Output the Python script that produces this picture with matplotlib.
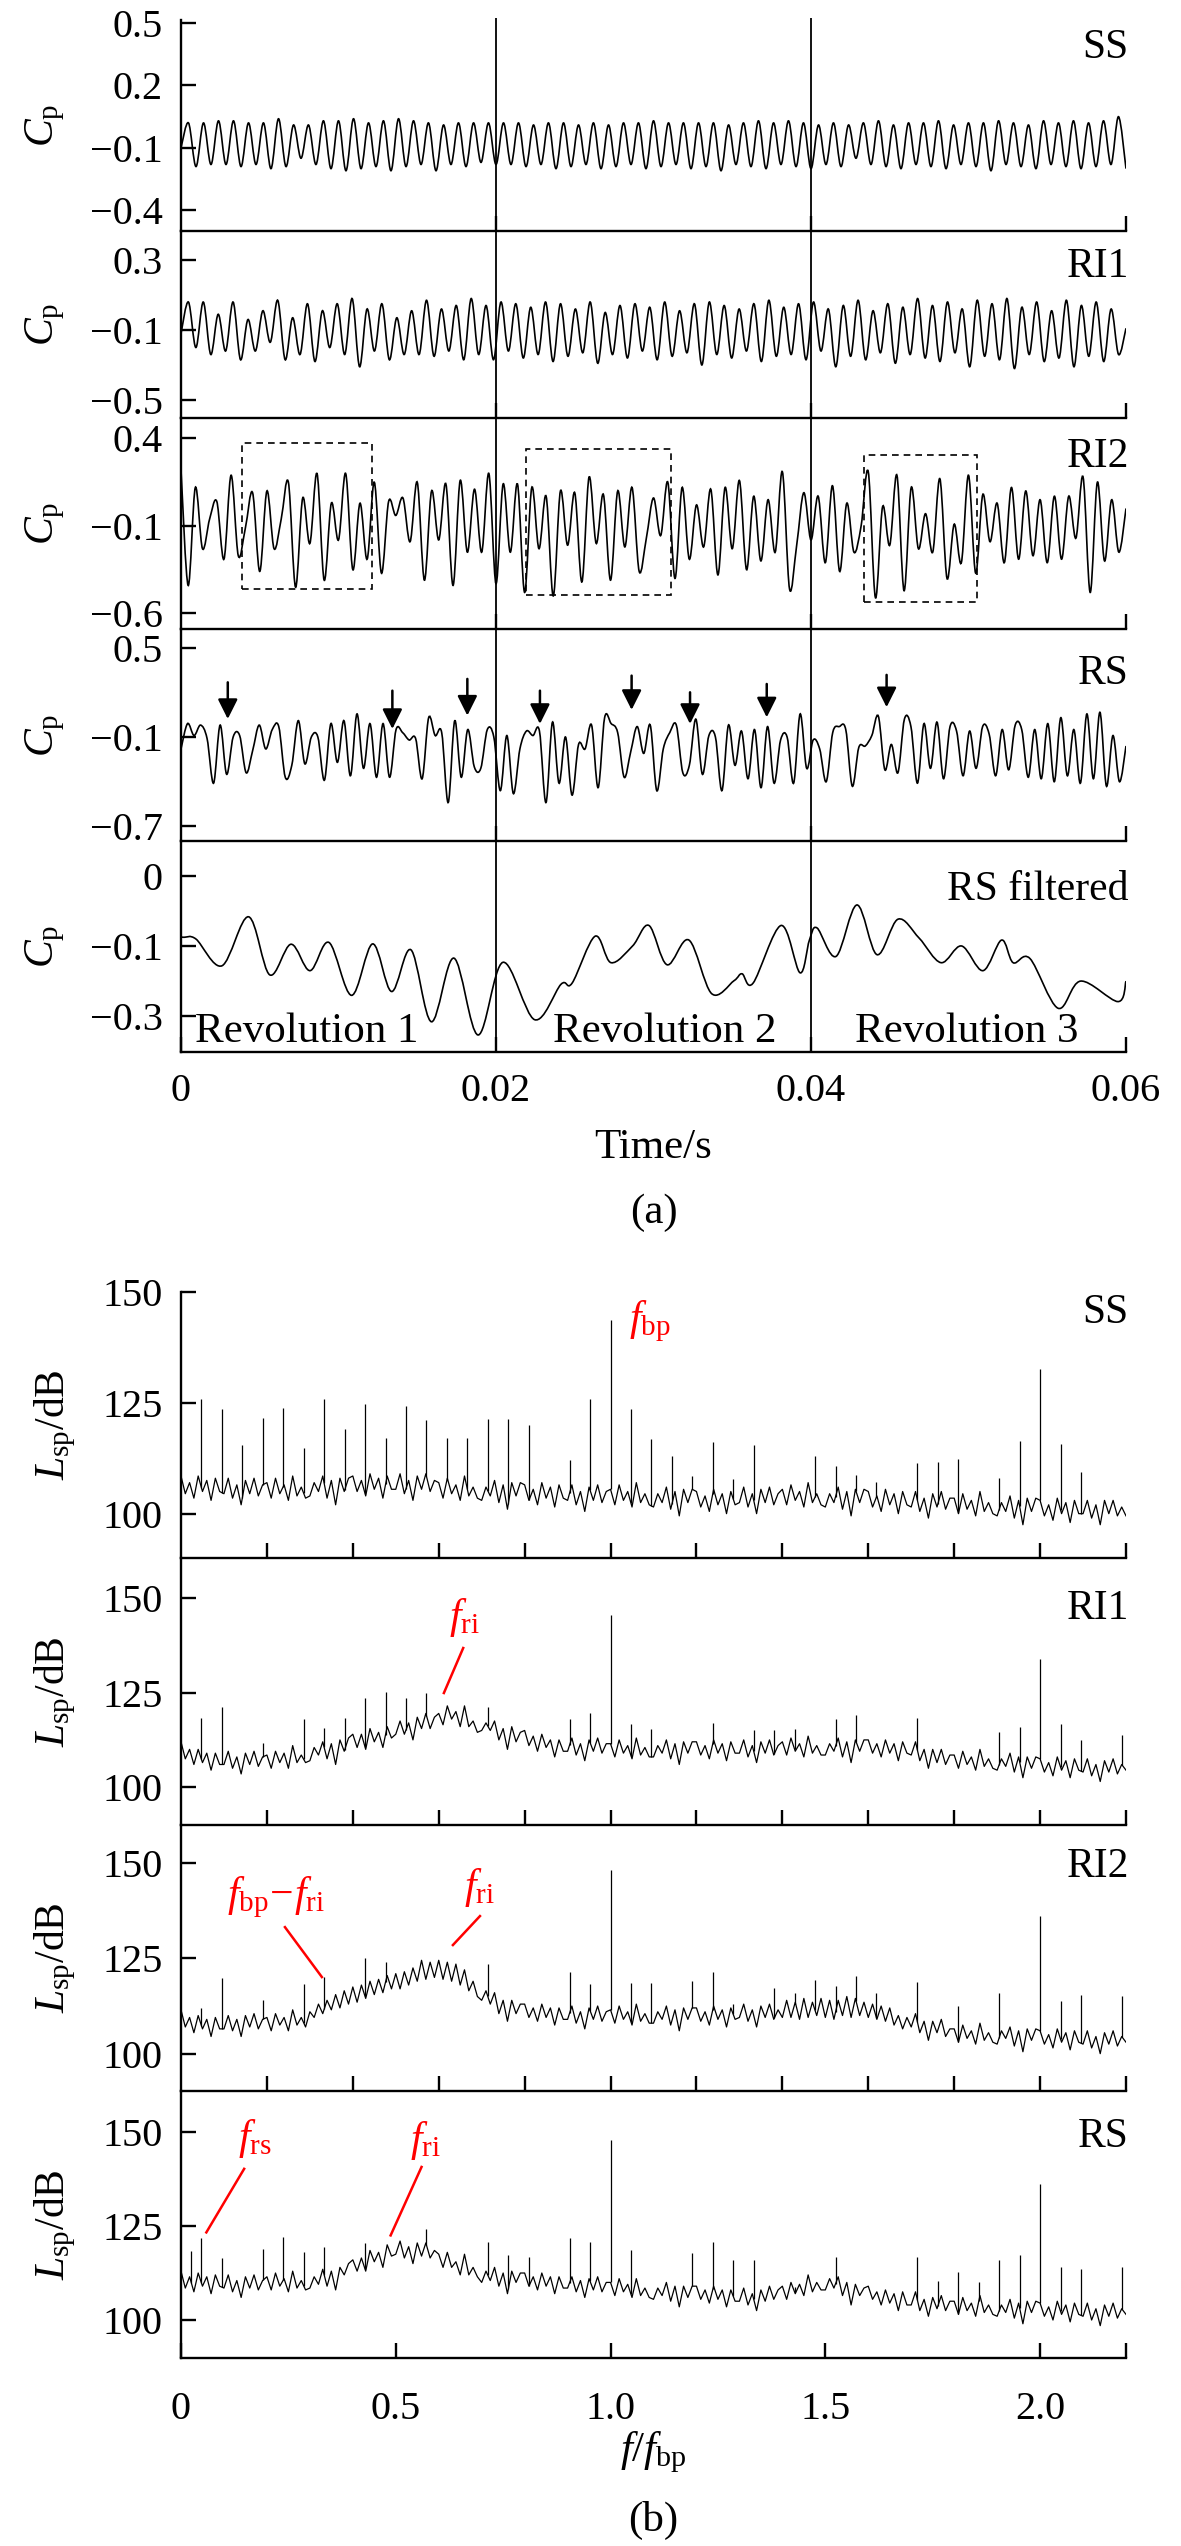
import numpy as np
import matplotlib.pyplot as plt
from matplotlib.patches import Rectangle, PathPatch
from matplotlib.path import Path

plt.rcParams['font.family'] = 'Liberation Serif'
plt.rcParams['mathtext.fontset'] = 'custom'
plt.rcParams['mathtext.rm'] = 'Liberation Serif'
plt.rcParams['mathtext.it'] = 'Liberation Serif:italic'
plt.rcParams['axes.unicode_minus'] = True

# ---------------- (a) pressure coefficient, time traces ----------------
ss_peaks = [0.02, 0.02, 0.03, 0.03, 0.02, 0.02, 0.04, 0.01, 0.01, 0.03,
            0.03, 0.04, 0.02, 0.03, 0.04, 0.03, 0.02, 0.01, 0.02, 0.02,
            0.02, 0.02, 0.02, 0.01, 0.02, 0.02, 0.01, 0.02, 0.01, 0.02,
            0.02, 0.03, 0.02, 0.02, 0.02, 0.02, 0.01, 0.02, 0.03, 0.02,
            0.03, 0.02, 0.01, 0.02, 0.01, 0.02, 0.03, 0.01, 0.02, 0.02,
            0.03, 0.01, 0.02, 0.02, 0.03, 0.02, 0.01, 0.03, 0.02, 0.03,
            0.02, 0.03, 0.05]
ss_troughs = [-0.19, -0.18, -0.18, -0.19, -0.18, -0.20, -0.19, -0.15, -0.18, -0.20,
              -0.21, -0.20, -0.19, -0.21, -0.19, -0.18, -0.21, -0.18, -0.19, -0.17,
              -0.18, -0.18, -0.19, -0.18, -0.20, -0.19, -0.18, -0.20, -0.19, -0.18,
              -0.20, -0.19, -0.18, -0.20, -0.19, -0.21, -0.18, -0.19, -0.20, -0.18,
              -0.19, -0.20, -0.18, -0.19, -0.15, -0.18, -0.19, -0.20, -0.18, -0.19,
              -0.20, -0.18, -0.19, -0.21, -0.18, -0.19, -0.20, -0.18, -0.19, -0.20,
              -0.19, -0.18, -0.20]

ri1_peaks = [0.06, 0.06, -0.01, 0.06, -0.04, 0.01, 0.07, -0.03, 0.05, 0.01,
             0.05, 0.08, 0.02, 0.05, -0.03, 0.01, 0.07, 0.02, 0.04, 0.08,
             0.04, 0.06, 0.05, 0.03, 0.06, 0.05, 0.02, 0.06, 0.00, 0.04,
             0.05, 0.03, 0.06, 0.01, 0.05, 0.06, 0.04, 0.02, 0.05, 0.07,
             0.03, 0.05, 0.06, 0.02, 0.04, 0.07, 0.01, 0.05, 0.03, 0.08,
             0.04, 0.06, 0.02, 0.07, 0.05, 0.08, 0.03, 0.06, 0.01, 0.07,
             0.04, 0.06, 0.02]
ri1_troughs = [-0.20, -0.24, -0.22, -0.27, -0.22, -0.17, -0.27, -0.24, -0.28, -0.20,
               -0.24, -0.31, -0.22, -0.27, -0.24, -0.24, -0.25, -0.22, -0.27, -0.24,
               -0.27, -0.22, -0.26, -0.24, -0.28, -0.25, -0.23, -0.29, -0.24, -0.26,
               -0.22, -0.27, -0.25, -0.23, -0.30, -0.24, -0.26, -0.22, -0.28, -0.25,
               -0.24, -0.27, -0.22, -0.31, -0.25, -0.27, -0.23, -0.29, -0.24, -0.26,
               -0.28, -0.23, -0.31, -0.25, -0.27, -0.32, -0.24, -0.28, -0.26, -0.31,
               -0.25, -0.28, -0.24]

ri2_cp = [0.22, -0.44, 0.12, -0.23, -0.06, 0.04, -0.29, 0.19, -0.27, -0.11,
          0.09, -0.36, 0.10, -0.23, -0.06, 0.15, -0.45, 0.06, -0.20, 0.20,
          -0.41, 0.03, -0.18, 0.20, -0.35, 0.03, -0.29, 0.15, -0.37, 0.04,
          -0.04, 0.06, -0.19, 0.15, -0.41, 0.10, -0.18, 0.14, -0.44, 0.16,
          -0.25, 0.11, -0.25, 0.20, -0.43, 0.14, -0.25, 0.14, -0.48, 0.12,
          -0.23, 0.07, -0.50, 0.10, -0.21, 0.09, -0.42, 0.18, -0.20, 0.08,
          -0.41, 0.10, -0.22, 0.12, -0.36, -0.17, 0.06,
          -0.155, 0.15, -0.40, 0.12, -0.29, 0.02, -0.22, 0.11, -0.38, 0.12,
          -0.23, 0.16, -0.35, 0.07, -0.30, 0.05, -0.25, 0.21, -0.46, -0.21,
          0.09, -0.18, 0.07, -0.31, 0.13, -0.36, 0.03, -0.25, -0.10, 0.21,
          -0.51, 0.01, -0.21, 0.19, -0.47, 0.12, -0.23, -0.03, -0.25, 0.17,
          -0.40, -0.09, -0.31, 0.19, -0.37, 0.08, -0.19, 0.03, -0.31, 0.12,
          -0.29, 0.10, -0.27, 0.05, -0.31, 0.07, -0.29, 0.07, -0.17, 0.18,
          -0.48, 0.15, -0.30, 0.05, -0.25, 0.00]

rs_cp = [-0.18, -0.01, -0.09, -0.02, -0.11, -0.41, -0.02, -0.35, -0.10, -0.09,
         -0.34, -0.19, -0.02, -0.18, -0.05, -0.03, -0.37, -0.29, 0.01, -0.28,
         -0.10, -0.10, -0.39, -0.01, -0.27, 0.01, -0.36, 0.055, -0.31, -0.01,
         -0.37, -0.01, -0.37, -0.05, -0.07, -0.12, -0.11, -0.38, 0.03, -0.09,
         -0.07, -0.54, 0.01, -0.37, -0.05, -0.30, -0.31, -0.05, -0.10, -0.46,
         -0.09, -0.48, -0.18, -0.06, -0.09, -0.06, -0.54, 0.00, -0.41, -0.10,
         -0.49, -0.15, -0.18, -0.02, -0.44, 0.03, -0.01, -0.07, -0.37, -0.20,
         -0.03, -0.21, -0.02, -0.46, -0.18, -0.07,
         -0.02, -0.34, -0.29, 0.02, -0.35, -0.09, -0.10, -0.46, -0.02, -0.29,
         -0.06, -0.38, -0.05, -0.44, -0.03, -0.41, -0.12, -0.10, -0.41, 0.055,
         -0.31, -0.12, -0.18, -0.40, -0.07, -0.03, -0.05, -0.43, -0.17, -0.16,
         -0.09, 0.04, -0.32, -0.15, -0.34, 0.02, -0.03, -0.41, -0.01, -0.31,
         0.00, -0.38, -0.03, -0.06, -0.36, -0.06, -0.31, -0.03, -0.08, -0.36,
         -0.05, -0.32, -0.02, -0.05, -0.37, -0.05, -0.38, -0.01, -0.40, 0.03,
         -0.36, -0.05, -0.41, 0.055, -0.38, 0.066, -0.43, -0.09, -0.40, -0.16]

rsf_time_ms = [0, 0.19, 0.95, 2.60, 4.29, 5.63, 6.98, 8.19, 9.40, 10.83,
               12.17, 13.37, 14.60, 15.90, 17.33, 18.86, 20.44, 22.45, 24.13, 24.83,
               26.29, 27.30, 28.67, 29.71, 30.86, 32.25, 33.69, 35.11, 35.62, 36.32,
               38.10, 39.30, 39.90, 40.38, 41.59, 42.92, 44.19, 45.52, 46.86, 48.25,
               49.56, 50.92, 52.10, 52.83, 53.90, 55.68, 57.12, 59.49, 60.0]
rsf_cp = [-0.075, -0.075, -0.08, -0.157, -0.016, -0.183, -0.095, -0.171, -0.09, -0.242,
          -0.094, -0.231, -0.111, -0.318, -0.135, -0.356, -0.147, -0.312, -0.21, -0.207,
          -0.072, -0.148, -0.10, -0.041, -0.154, -0.083, -0.237, -0.20, -0.18, -0.207,
          -0.041, -0.177, -0.083, -0.048, -0.13, 0.018, -0.125, -0.023, -0.077, -0.148,
          -0.10, -0.171, -0.083, -0.148, -0.136, -0.279, -0.201, -0.26, -0.201]

revolution_bounds = [0.02, 0.04]
revolution_names = ['Revolution 1', 'Revolution 2', 'Revolution 3']
revolution_centres = [0.0080, 0.0307, 0.0499]

# RI2 dashed windows: t0, t1, cp_low, cp_high
ri2_windows = [(0.00389, 0.01211, -0.459, 0.375),
               (0.02189, 0.03109, -0.497, 0.341),
               (0.04337, 0.05056, -0.535, 0.303)]
# RS arrows: time, tail cp, tip cp
rs_arrow_t = [0.00297, 0.01342, 0.01818, 0.02279, 0.02861, 0.03232, 0.03719, 0.04480]
rs_arrow_tail = [0.267, 0.211, 0.290, 0.211, 0.312, 0.200, 0.256, 0.317]
rs_arrow_tip = [0.021, -0.046, 0.044, -0.012, 0.082, -0.012, 0.032, 0.100]

# ---------------- (b) sound pressure level spectra ----------------
blade_count = 21
freq = np.linspace(0, 2.2, 221)

ss_level = [108.5, 104.5, 107, 103.5, 108.5, 105, 107.5, 103, 108, 105,
            104.5, 108, 103.5, 106.5, 102, 107.5, 104.5, 108, 104, 106.5,
            107, 103.5, 108, 104.5, 106.5, 103, 108.5, 104, 106, 103.5,
            104, 107, 105, 108.5, 103.5, 107.5, 102, 108, 105, 108,
            108.5, 105, 107.5, 104, 109, 105.5, 108, 103.5, 108.5, 105.5,
            105.5, 109, 104.5, 107.5, 103, 108.5, 105.5, 109, 105, 107.5,
            107, 103.5, 108, 104.5, 106.5, 103, 108.5, 104, 106, 103.5,
            103, 106, 104, 107.5, 102.5, 106.5, 101, 107, 104, 107,
            106.5, 103, 105.5, 102, 107, 103.5, 106, 101.5, 106.5, 103.5,
            103, 106.5, 102, 105, 100.5, 106, 103, 106.5, 102.5, 105,
            105.5, 102, 106.5, 103, 105, 101.5, 107, 102.5, 104.5, 102,
            101.5, 104.5, 102.5, 106, 101, 105, 99.5, 105.5, 102.5, 105.5,
            105, 101.5, 104, 100.5, 105.5, 102, 104.5, 100, 105, 102,
            102.5, 106, 101.5, 104.5, 100, 105.5, 102.5, 106, 102, 104.5,
            105.5, 102, 106.5, 103, 105, 101.5, 107, 102.5, 104.5, 102,
            101.5, 104.5, 102.5, 106, 101, 105, 99.5, 105.5, 102.5, 105.5,
            105, 101.5, 104, 100.5, 105.5, 102, 104.5, 100, 105, 102,
            101.5, 105, 100.5, 103.5, 99, 104.5, 101.5, 105, 101, 103.5,
            103.5, 100, 104.5, 101, 103, 99.5, 105, 100.5, 102.5, 100,
            99.5, 102.5, 100.5, 104, 99, 103, 97.5, 103.5, 100.5, 103.5,
            103, 99.5, 102, 98.5, 103.5, 100, 102.5, 98, 103, 100,
            100, 103, 99, 102, 97.5, 103, 100, 103, 99.5, 101.5,
            99.5]
ri1_level = [112, 107.5, 110, 106, 110, 106.5, 109, 104.5, 109, 106,
             106, 109.5, 105, 108, 103.5, 109, 106, 109.5, 105.5, 108,
             108.5, 105, 109.5, 106.5, 109, 105, 111, 106.5, 108.5, 106.5,
             107, 110.5, 108.5, 112, 107.5, 111.5, 106, 112.5, 109.5, 113,
             114, 110.5, 114, 110, 115.5, 112, 114.5, 110.5, 116, 113,
             114, 117.5, 114, 117, 112.5, 118.5, 115.5, 119.5, 115.5, 118.5,
             119.5, 116.5, 121.5, 118, 120, 116, 121.5, 116, 117.5, 114.5,
             115, 117, 115, 117.5, 112.5, 115.5, 110, 116, 112, 114.5,
             115, 111, 113.5, 109.5, 114, 110.5, 112.5, 108, 112.5, 109.5,
             109.5, 113, 108.5, 111.5, 107, 112.5, 109.5, 113, 109, 111.5,
             111.5, 108, 112.5, 109, 111, 107.5, 113, 108.5, 110.5, 108,
             108, 111, 109, 112.5, 107.5, 111.5, 106, 112, 109, 112,
             112, 108.5, 111, 107.5, 112.5, 109, 111.5, 107, 112, 109,
             109, 112.5, 108, 111, 106.5, 112, 109, 112.5, 108.5, 111,
             112, 108.5, 113, 109.5, 111.5, 108, 113.5, 109, 111, 108.5,
             108.5, 111.5, 109.5, 113, 108, 112, 106.5, 112.5, 109.5, 112.5,
             112.5, 109, 111.5, 108, 112.5, 109, 111.5, 107, 112, 109,
             108.5, 112, 107, 110, 105, 110, 106.5, 110, 106, 108.5,
             108.5, 105, 109.5, 106, 108, 104.5, 110, 105.5, 107.5, 105,
             104.5, 107.5, 105.5, 109, 104, 108, 102.5, 108, 105, 108,
             107.5, 104, 106.5, 103, 108, 104.5, 107, 102.5, 107.5, 104.5,
             104, 107.5, 103, 106, 101.5, 107, 104, 107.5, 103.5, 106,
             104.5]
ri2_level = [111.5, 107, 109.5, 105.5, 110, 106.5, 109, 104.5, 109.5, 106.5,
             106.5, 110, 106, 109, 104.5, 110, 107, 110.5, 106.5, 109,
             109.5, 106, 110.5, 107.5, 109.5, 106, 111.5, 107.5, 109.5, 107,
             111, 109.5, 113, 110.5, 114, 111.5, 115.5, 112, 116.5, 113,
             117.5, 113.5, 118, 114.5, 119, 115.5, 119.5, 116, 120.5, 117,
             121, 117, 121.5, 118, 122.5, 119, 124.5, 119.5, 124, 120,
             124.5, 119.5, 124, 119, 123.5, 118, 122, 116.5, 119, 115,
             114, 116.5, 113, 116, 110.5, 114, 108.5, 114, 110.5, 113,
             113, 109.5, 112, 108.5, 113, 109.5, 112, 107.5, 112, 109,
             109, 112.5, 108, 111, 106.5, 112, 109, 112.5, 108.5, 111,
             111.5, 108, 112.5, 109, 111, 107.5, 113, 108.5, 110.5, 108,
             108, 111, 109, 112.5, 107.5, 111.5, 106, 112, 109, 112,
             112, 108.5, 111, 107.5, 112.5, 109, 111.5, 107, 112, 109,
             109.5, 113, 108.5, 111.5, 107, 112.5, 109.5, 113, 109, 111.5,
             109.5, 114, 109.5, 113.5, 109, 114.5, 109.5, 113.5, 110, 114.5,
             109.5, 114, 109, 114, 110, 115, 109.5, 114.5, 110, 113.5,
             109.5, 113, 109, 112.5, 108.5, 112, 107.5, 110, 106.5, 109.5,
             107, 110.5, 105.5, 108.5, 103.5, 108.5, 105.5, 109, 104.5, 106.5,
             106.5, 103, 107.5, 104, 106, 102.5, 108, 103.5, 105.5, 103,
             102.5, 106, 104, 107, 102, 106, 100.5, 106.5, 103.5, 106.5,
             106, 102.5, 105, 101.5, 106.5, 103, 105.5, 101, 106, 103,
             102.5, 106, 101.5, 104.5, 100, 105.5, 102.5, 106, 102, 104.5,
             103]
rs_level = [113, 108.5, 111.5, 107.5, 112.5, 109, 111.5, 107, 112, 109,
            108.5, 112, 107.5, 110.5, 106, 111.5, 108.5, 112, 108, 110.5,
            111.5, 108, 112.5, 109, 111, 107.5, 113, 108.5, 110.5, 108,
            108.5, 111.5, 109.5, 113.5, 109, 113, 108, 114, 112, 115,
            116, 113, 116.5, 113, 118.5, 115.5, 118, 114, 120, 117,
            117.5, 121, 116.5, 119.5, 115, 120.5, 117, 120.5, 116.5, 118.5,
            117.5, 114, 118, 114, 115.5, 112, 117.5, 112, 114, 111.5,
            110, 113, 110.5, 114, 109, 112.5, 107, 113, 110, 112.5,
            112.5, 109, 111.5, 108, 112.5, 109, 111.5, 107, 111.5, 108.5,
            108.5, 111.5, 107.5, 110.5, 106, 111, 108, 111.5, 107.5, 110,
            110, 106.5, 111, 107.5, 109.5, 106, 111, 106.5, 108.5, 106,
            105.5, 108.5, 106.5, 110, 105, 109, 103.5, 109, 106, 109,
            109, 105.5, 108, 104.5, 109, 105.5, 108, 103.5, 108, 105,
            105, 108.5, 104, 107, 102.5, 108, 105, 109, 105.5, 108,
            109, 105.5, 110, 107, 109.5, 106.5, 112, 107.5, 110, 108,
            108, 111, 108.5, 111.5, 106.5, 110, 104, 109.5, 106.5, 108.5,
            109, 105.5, 107.5, 104, 108, 104.5, 107, 102.5, 107.5, 104,
            104, 107.5, 102.5, 105.5, 101, 106, 103, 106.5, 102.5, 105,
            105, 101.5, 106, 102.5, 104.5, 101, 106.5, 102, 104, 101.5,
            101, 104, 102, 105.5, 100.5, 104.5, 99, 105, 102, 105,
            104.5, 101, 103.5, 100, 105, 101.5, 104, 99.5, 104.5, 101.5,
            101, 104.5, 100, 103, 98.5, 104, 101, 104.5, 100.5, 103,
            101.5]

# tonal peaks: harmonic order of shaft frequency (f_bp / 21) and peak level
ss_tone_order = [1, 2, 3, 4, 5, 6, 7, 8, 9, 10, 11, 12, 13, 14, 15, 16, 17, 19, 20, 21,
                 22, 23, 24, 25, 26, 27, 28, 31, 32, 33, 34, 36, 37, 38, 40, 41, 42, 43, 44]
ss_tone_db = [125.9, 123.6, 115.5, 121.5, 123.9, 114.9, 125.9, 119.2, 124.8, 117.0,
              124.3, 121.2, 117.0, 117.0, 121.3, 121.3, 119.9, 112.0, 125.9, 143.7,
              123.6, 116.9, 113.0, 108.5, 116.2, 107.9, 115.5, 113.0, 110.8, 108.7,
              107.2, 111.5, 111.6, 112.3, 108.1, 116.3, 132.7, 115.8, 109.3]
ri1_tone_order = [1, 2, 4, 6, 7, 8, 9, 10, 11, 12, 15, 19, 20, 21, 22, 23, 26, 28, 29, 30,
                  32, 33, 36, 40, 41, 42, 43, 44, 46]
ri1_tone_db = [118.4, 121.1, 111.8, 117.9, 115.6, 118.4, 123.7, 125.3, 123.5, 124.8,
               121.1, 117.9, 119.5, 145.6, 116.6, 115.5, 117.1, 115.2, 115.2, 115.5,
               117.9, 119.2, 118.3, 114.7, 115.8, 133.9, 116.6, 112.4, 113.8]
ri2_tone_order = [1, 2, 4, 6, 7, 9, 10, 15, 19, 20, 21, 22, 23, 25, 26, 27, 29, 30, 31, 32,
                  33, 34, 36, 38, 40, 42, 43, 44, 46]
ri2_tone_db = [112.1, 119.8, 114.0, 118.2, 120.1, 125.0, 124.0, 123.4, 121.3, 118.2,
               148.2, 118.5, 118.5, 119.0, 121.5, 113.0, 117.1, 116.0, 119.4, 117.7,
               120.5, 116.0, 118.8, 112.4, 115.8, 136.0, 113.7, 115.3, 115.0]
rs_tone_order = [0.5, 1, 2, 4, 5, 6, 7, 9, 12, 15, 16, 17, 19, 20, 21, 22, 25, 26, 27, 28,
                 30, 32, 36, 37, 38, 39, 40, 41, 42, 43, 44, 46]
rs_tone_db = [118.4, 121.9, 116.5, 119.0, 122.2, 118.0, 119.5, 120.6, 124.1, 120.8,
              117.3, 116.8, 121.9, 120.8, 147.9, 118.7, 117.9, 120.8, 116.0, 116.0,
              108.8, 116.8, 116.8, 110.5, 112.9, 110.0, 116.0, 117.4, 136.2, 114.2,
              113.5, 114.2]

# ---------------- layout helpers (pixel boxes of the 1181 x 2546 picture) ----------------
W, H = 1181, 2546
LEFT, RIGHT = 181, 1126
fig = plt.figure(figsize=(W / 100, H / 100), dpi=100)
fig.patch.set_facecolor('white')


def panel(top, bottom):
    return fig.add_axes([LEFT / W, 1 - bottom / H, (RIGHT - LEFT) / W, (bottom - top) / H])


def style(ax):
    ax.spines['top'].set_visible(False)
    ax.spines['right'].set_visible(False)
    ax.spines['left'].set_linewidth(1.7)
    ax.spines['bottom'].set_linewidth(1.7)
    ax.tick_params(direction='in', length=11, width=1.7, labelsize=29)
    ax.tick_params(axis='y', pad=13)
    ax.patch.set_alpha(0)


def ticklabels(vals):
    return [('%g' % v).replace('-', '\u2212') for v in vals]


def smooth_trace(ax, x, y, **kw):
    # draw the sampled trace as a smooth curve through every sample (Catmull-Rom -> Bezier)
    x = np.asarray(x, float)
    y = np.asarray(y, float)
    xp = np.r_[x[0], x, x[-1]]
    yp = np.r_[y[0], y, y[-1]]
    verts = [(x[0], y[0])]
    codes = [Path.MOVETO]
    for i in range(len(x) - 1):
        verts.append((x[i] + (xp[i + 2] - xp[i]) / 6, y[i] + (yp[i + 2] - yp[i]) / 6))
        verts.append((x[i + 1] - (xp[i + 3] - xp[i + 1]) / 6, y[i + 1] - (yp[i + 3] - yp[i + 1]) / 6))
        verts.append((x[i + 1], y[i + 1]))
        codes += [Path.CURVE4] * 3
    ax.add_patch(PathPatch(Path(verts, codes), fill=False, **kw))


# ---- panel (a) ----
a_boxes = [(20, 231), (231, 418), (418, 629), (629, 841), (841, 1052)]
a_ylims = [(-0.5, 0.515), (-0.603, 0.466), (-0.689, 0.517), (-0.798, 0.625), (-0.405, 0.202)]
a_yticks = [[0.5, 0.2, -0.1, -0.4], [0.3, -0.1, -0.5], [0.4, -0.1, -0.6], [0.5, -0.1, -0.7],
            [0.1, -0.1, -0.3]]
a_ylabels = [ticklabels(t) for t in a_yticks[:4]] + [['0', '\u22120.1', '\u22120.3']]
a_names = ['SS', 'RI1', 'RI2', 'RS', 'RS filtered']
a_name_y = [0.867, 0.807, 0.815, 0.788, 0.768]

ss_cp = np.r_[-0.10, np.column_stack([ss_peaks, ss_troughs]).ravel()]
ri1_cp = np.r_[-0.12, np.column_stack([ri1_peaks, ri1_troughs]).ravel(), -0.09]
traces = [ss_cp, ri1_cp, np.array(ri2_cp), np.array(rs_cp)]

a_axes = []
for i, (top, bot) in enumerate(a_boxes):
    ax = panel(top, bot)
    style(ax)
    ax.set_xlim(0, 0.06)
    ax.set_ylim(*a_ylims[i])
    ax.set_yticks(a_yticks[i], a_ylabels[i])
    if i < 4:
        y = traces[i]
        smooth_trace(ax, np.linspace(0, 0.06, len(y)), y, ec='k', lw=1.2)
        ax.set_xticks([0.02, 0.04, 0.06])
        ax.tick_params(axis='x', labelbottom=False)
    else:
        smooth_trace(ax, np.array(rsf_time_ms) / 1000, rsf_cp, ec='k', lw=1.2)
        ax.set_xticks([0, 0.02, 0.04, 0.06], ['0', '0.02', '0.04', '0.06'])
        ax.tick_params(axis='x', pad=15)
    ax.text(1.003, a_name_y[i], a_names[i], transform=ax.transAxes,
            ha='right', va='center', fontsize=30)
    fig.text(45 / W, 1 - (top + bot) / 2 / H, r'$C_{\mathrm{p}}$', rotation=90,
             ha='center', va='center', fontsize=30)
    a_axes.append(ax)

for t0, t1, lo, hi in ri2_windows:
    a_axes[2].add_patch(Rectangle((t0, lo), t1 - t0, hi - lo, fill=False, ec='k',
                                  lw=1.2, ls=(0, (4, 3))))

for t, tail, tip in zip(rs_arrow_t, rs_arrow_tail, rs_arrow_tip):
    a_axes[3].annotate('', xy=(t, tip), xytext=(t, tail),
                       arrowprops=dict(arrowstyle='-|>,head_length=0.6,head_width=0.3',
                                       color='k', lw=1.8, mutation_scale=20,
                                       shrinkA=0, shrinkB=0))

for name, tc in zip(revolution_names, revolution_centres):
    a_axes[4].text(tc, -0.377, name, ha='center', va='baseline', fontsize=31)

ov = panel(18, 1052)
ov.set_xlim(0, 0.06)
ov.set_ylim(0, 1)
ov.axis('off')
ov.set_zorder(10)
ov.vlines(revolution_bounds, 0, 1, colors='k', lw=1.3)

xc = (LEFT + RIGHT) / 2 / W
fig.text(xc, 1 - 1148 / H, 'Time/s', ha='center', va='center', fontsize=31)
fig.text(xc, 1 - 1213 / H, '(a)', ha='center', va='center', fontsize=31)

# ---- panel (b) ----
b_boxes = [(1292, 1558), (1558, 1825), (1825, 2091), (2091, 2358)]
b_ylims = [(90, 150), (90, 160.6), (90.2, 160), (89.9, 160.9)]
b_names = ['SS', 'RI1', 'RI2', 'RS']
b_name_y = [0.921, 0.809, 0.842, 0.828]
levels = [ss_level, ri1_level, ri2_level, rs_level]
tones = [(ss_tone_order, ss_tone_db), (ri1_tone_order, ri1_tone_db),
         (ri2_tone_order, ri2_tone_db), (rs_tone_order, rs_tone_db)]

b_axes = []
for i, (top, bot) in enumerate(b_boxes):
    ax = panel(top, bot)
    style(ax)
    ax.set_xlim(0, 2.2)
    ax.set_ylim(*b_ylims[i])
    ax.set_yticks([100, 125, 150], ['100', '125', '150'])
    base = np.array(levels[i])
    ax.plot(freq, base, color='k', lw=0.9)
    tf = np.array(tones[i][0]) / blade_count
    ax.vlines(tf, np.interp(tf, freq, base), tones[i][1], colors='k', lw=0.9)
    if i < 3:
        ax.set_xticks(np.arange(0.2, 2.21, 0.2))
        ax.tick_params(axis='x', labelbottom=False)
    else:
        ax.set_xticks([0, 0.5, 1.0, 1.5, 2.0, 2.2], ['0', '0.5', '1.0', '1.5', '2.0', ''])
        ax.tick_params(axis='x', pad=24)
    ax.text(1.003, b_name_y[i], b_names[i], transform=ax.transAxes,
            ha='right', va='center', fontsize=30)
    fig.text(55 / W, 1 - (top + bot) / 2 / H, r'$L_{\mathrm{sp}}/\mathrm{dB}$', rotation=90,
             ha='center', va='center', fontsize=30)
    b_axes.append(ax)

red = '#ff0000'
b_axes[0].text(1.091, 143.4, r'$f_{\mathrm{bp}}$', color=red, fontsize=30, ha='center', va='center')
b_axes[1].text(0.660, 144.8, r'$f_{\mathrm{ri}}$', color=red, fontsize=30, ha='center', va='center')
b_axes[1].plot([0.657, 0.612], [136.8, 124.9], color=red, lw=1.8)
b_axes[2].text(0.221, 141.1, r'$f_{\mathrm{bp}}\!-\!f_{\mathrm{ri}}$', color=red, fontsize=30,
               ha='center', va='center')
b_axes[2].plot([0.242, 0.328], [133.2, 120.1], color=red, lw=1.8)
b_axes[2].text(0.694, 143.7, r'$f_{\mathrm{ri}}$', color=red, fontsize=30, ha='center', va='center')
b_axes[2].plot([0.696, 0.633], [136.1, 128.5], color=red, lw=1.8)
b_axes[3].text(0.172, 148.3, r'$f_{\mathrm{rs}}$', color=red, fontsize=30, ha='center', va='center')
b_axes[3].plot([0.147, 0.059], [140.2, 123.3], color=red, lw=1.8)
b_axes[3].text(0.569, 147.7, r'$f_{\mathrm{ri}}$', color=red, fontsize=30, ha='center', va='center')
b_axes[3].plot([0.560, 0.488], [140.7, 122.5], color=red, lw=1.8)

fig.text(xc, 1 - 2452 / H, r'$f/f_{\mathrm{bp}}$', ha='center', va='center', fontsize=31)
fig.text(xc, 1 - 2520 / H, '(b)', ha='center', va='center', fontsize=31)

fig.savefig('out.png', dpi=100, facecolor='white')
